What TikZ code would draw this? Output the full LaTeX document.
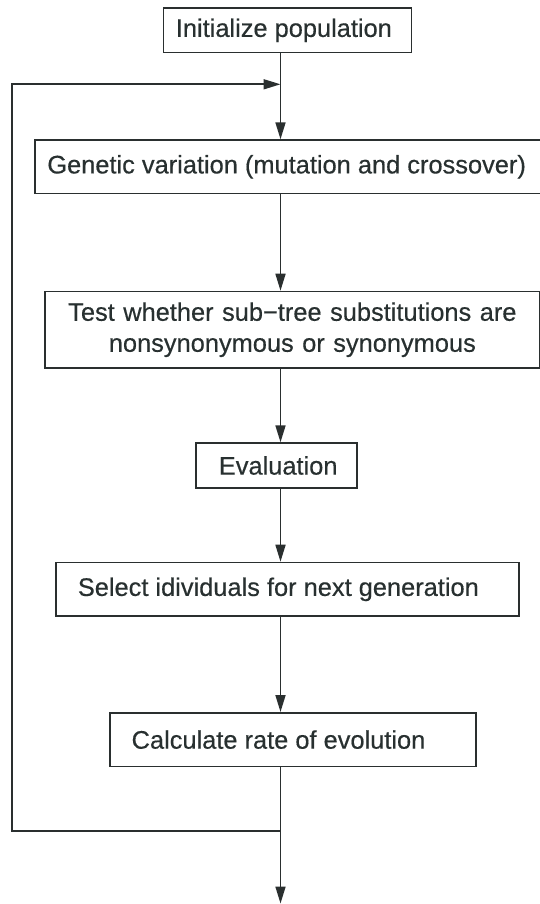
\documentclass[tikz,border=0pt]{standalone}
\usepackage{fontspec}
\setmainfont{Liberation Sans}[FakeBold=0.4]
\usetikzlibrary{arrows.meta}
\definecolor{ink}{HTML}{2A2F2F}
\definecolor{txt}{HTML}{283030}
\begin{document}
\begin{tikzpicture}[x=1pt,y=-1pt,
  box/.style={draw=ink, line width=1.7pt, inner sep=0pt, anchor=north west,
    font=\fontsize{25.4}{31}\selectfont, text=txt},
  conn/.style={draw=ink, line width=1.7pt},
  arr/.style={conn, -{Triangle[length=17pt,width=10pt]}}]
\useasboundingbox[fill=white] (0,0) rectangle (540,904);
\coordinate (sp) at (280.5,0);
\node[box, minimum height=44.4pt] (init) at (162.5,7.3)
  {\makebox[248pt][l]{\hspace*{12.5pt}Initialize population}};
\node[box, minimum height=53.4pt] (gen) at (34,139.3)
  {\makebox[508pt][l]{\hspace*{12.5pt}Genetic variation (mutation and crossover)}};
\node[box, minimum height=76.3pt, text width=495pt, align=center] (test) at (44,290.7)
  {Test whether sub−tree substitutions are\\nonsynonymous or synonymous};
\node[box, minimum height=44.7pt] (eval) at (195,442.3)
  {\makebox[161pt][l]{\hspace*{23pt}Evaluation}};
\node[box, minimum height=53.6pt] (sel) at (55,561.7)
  {\makebox[463pt][l]{\hspace*{22pt}Select idividuals for next generation}};
\node[box, minimum height=53.5pt] (calc) at (108.8,712)
  {\makebox[366pt][l]{\hspace*{22pt}Calculate rate of evolution}};
\coordinate (jt) at (280.5,84.3);
\coordinate (jb) at (280.5,831);
\coordinate (lt) at (12,84.3);
\coordinate (lb) at (12,831);
\coordinate (out) at (280.5,903.5);
\draw[arr] (init.south -| sp) -- (gen.north -| sp);
\draw[arr] (gen.south -| sp) -- (test.north -| sp);
\draw[arr] (test.south -| sp) -- (eval.north -| sp);
\draw[arr] (eval.south -| sp) -- (sel.north -| sp);
\draw[arr] (sel.south -| sp) -- (calc.north -| sp);
\draw[arr] (calc.south -| sp) -- (out);
\draw[arr] (jb) -- (lb) -- (lt) -- (jt);
\end{tikzpicture}
\end{document}
